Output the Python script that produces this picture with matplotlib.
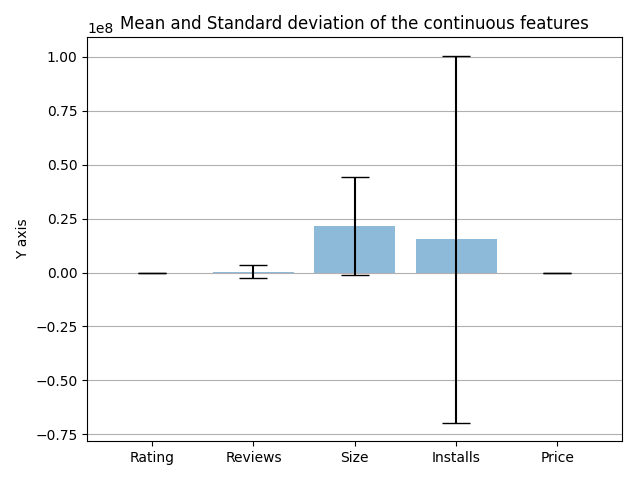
import numpy as np
import matplotlib.pyplot as plt

features = ['Rating', 'Reviews', 'Size', 'Installs', 'Price']
means = [4.19, 444153.0, 21516530.0, 15464339.0, 1.03]
stds = [0.52, 2927629.0, 22588680.0, 85029361.0, 16.0]

x_pos = np.arange(len(features))

fig, ax = plt.subplots(figsize=(6.4, 4.8))
ax.bar(x_pos, means, yerr=stds, align='center', alpha=0.5, ecolor='black', capsize=10)
ax.set_ylabel('Y axis')
ax.set_xticks(x_pos)
ax.set_xticklabels(features)
ax.set_title('Mean and Standard deviation of the continuous features')
ax.yaxis.grid(True)
plt.subplots_adjust(left=0.1364, right=0.9723, top=0.9223, bottom=0.0813)
plt.savefig('out.png')
